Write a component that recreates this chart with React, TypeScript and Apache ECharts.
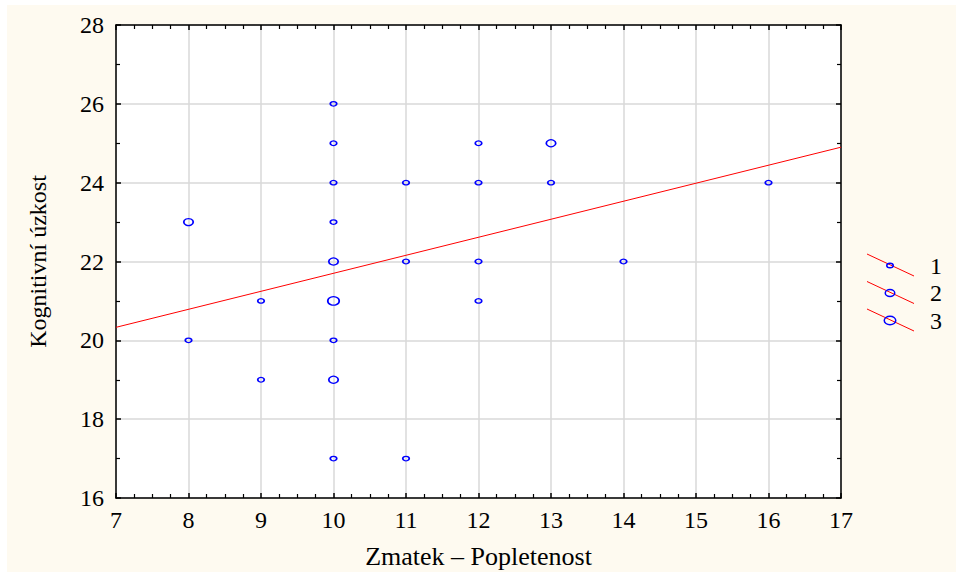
import React, { useEffect, useRef } from "react";
import * as echarts from "echarts";

const xValues = [8, 8, 9, 9, 10, 10, 10, 10, 10, 10, 10, 10, 10, 11, 11, 11, 12, 12, 12, 12, 13, 13, 14, 16];
const yValues = [23, 20, 21, 19, 26, 25, 24, 23, 22, 21, 20, 19, 17, 24, 22, 17, 25, 24, 22, 21, 25, 24, 22, 24];
const counts = [2, 1, 1, 1, 1, 1, 1, 1, 2, 3, 1, 2, 1, 1, 1, 1, 1, 1, 1, 1, 2, 1, 1, 1];
const fitX = [7, 17];
const fitY = [20.33, 24.9];
const legendLabels = ["1", "2", "3"];

const FONT = "Liberation Serif";
const symbolSizes: Record<number, number[]> = { 1: [6.5, 4.5], 2: [9.5, 7], 3: [11.5, 8.5] };

export default function App() {
  const ref = useRef<HTMLDivElement>(null);
  useEffect(() => {
    document.body.style.margin = "0";
    const chart = echarts.init(ref.current!, null, { renderer: "svg" });
    const points = xValues.map((x, i) => [x, yValues[i], counts[i]]);
    const fitLine = fitX.map((x, i) => [x, fitY[i]]);

    const legendGraphics: any[] = [];
    legendLabels.forEach((lab, i) => {
      const y0 = 254 + i * 27.5;
      legendGraphics.push({
        type: "line",
        shape: { x1: 867, y1: y0, x2: 914, y2: y0 + 22 },
        style: { stroke: "#ff0000", lineWidth: 1 },
      });
      const s = symbolSizes[Number(lab)];
      legendGraphics.push({
        type: "ellipse",
        shape: { cx: 890, cy: y0 + 11.5, rx: s[0] / 2, ry: s[1] / 2 },
        style: { fill: "transparent", stroke: "#0000ff", lineWidth: 1.5 },
      });
      legendGraphics.push({
        type: "text",
        x: 936,
        y: y0 + 11.5,
        style: {
          text: lab,
          fontFamily: FONT,
          fontSize: 24,
          fill: "#000",
          align: "center",
          verticalAlign: "middle",
        },
      });
    });

    const baseAxisLine = { show: true, lineStyle: { color: "#000", width: 1.5 } };

    chart.setOption({
      animation: false,
      backgroundColor: "#ffffff",
      textStyle: { fontFamily: FONT },
      graphic: [
        {
          type: "rect",
          z: -10,
          silent: true,
          shape: { x: 7, y: 5, width: 949, height: 567 },
          style: { fill: "#fefaf0" },
        },
        ...legendGraphics,
      ],
      grid: {
        left: 116,
        top: 25,
        right: 117,
        bottom: 79,
        show: true,
        backgroundColor: "#ffffff",
        borderWidth: 0,
      },
      xAxis: [
        {
          type: "value",
          min: 7,
          max: 17,
          interval: 1,
          name: "Zmatek – Popletenost",
          nameLocation: "middle",
          nameGap: 45,
          nameTextStyle: { fontFamily: FONT, fontSize: 26, color: "#000" },
          axisLine: baseAxisLine,
          axisTick: { show: true, inside: true, length: 5, lineStyle: { color: "#000", width: 1.5 } },
          minorTick: { show: true, splitNumber: 4, length: 4, lineStyle: { color: "#000", width: 1.2 } },
          axisLabel: { fontFamily: FONT, fontSize: 24, color: "#000", margin: 10 },
          splitLine: { show: true, lineStyle: { color: "#d8d8d8", width: 1.5 } },
        },
        {
          type: "value",
          position: "top",
          min: 7,
          max: 17,
          interval: 1,
          axisLine: baseAxisLine,
          axisTick: { show: true, inside: true, length: 5, lineStyle: { color: "#000", width: 1.5 } },
          minorTick: { show: true, splitNumber: 4, length: 4, lineStyle: { color: "#000", width: 1.2 } },
          axisLabel: { show: false },
          splitLine: { show: false },
        },
      ],
      yAxis: [
        {
          type: "value",
          min: 16,
          max: 28,
          interval: 2,
          name: "Kognitivní úzkost",
          nameLocation: "middle",
          nameGap: 66,
          nameTextStyle: { fontFamily: FONT, fontSize: 24, color: "#000" },
          axisLine: baseAxisLine,
          axisTick: { show: true, inside: true, length: 5, lineStyle: { color: "#000", width: 1.5 } },
          minorTick: { show: true, splitNumber: 2, length: 4, lineStyle: { color: "#000", width: 1.2 } },
          axisLabel: { fontFamily: FONT, fontSize: 24, color: "#000", margin: 12 },
          splitLine: { show: true, lineStyle: { color: "#d8d8d8", width: 1.5 } },
        },
        {
          type: "value",
          position: "right",
          min: 16,
          max: 28,
          interval: 2,
          axisLine: baseAxisLine,
          axisTick: { show: true, inside: true, length: 5, lineStyle: { color: "#000", width: 1.5 } },
          minorTick: { show: true, splitNumber: 2, length: 4, lineStyle: { color: "#000", width: 1.2 } },
          axisLabel: { show: false },
          splitLine: { show: false },
        },
      ],
      series: [
        {
          type: "line",
          xAxisIndex: 0,
          yAxisIndex: 0,
          data: fitLine,
          showSymbol: false,
          symbol: "none",
          lineStyle: { color: "#ff0000", width: 1 },
          z: 2,
          silent: true,
        },
        {
          type: "scatter",
          xAxisIndex: 0,
          yAxisIndex: 0,
          data: points,
          symbol: "circle",
          symbolSize: (v: number[]) => symbolSizes[v[2]],
          itemStyle: { color: "rgba(255,255,255,0)", borderColor: "#0000ff", borderWidth: 1.5, opacity: 1 },
          z: 3,
        },
      ],
    });
    return () => chart.dispose();
  }, []);
  return <div ref={ref} style={{ width: 958, height: 577 }} />;
}
